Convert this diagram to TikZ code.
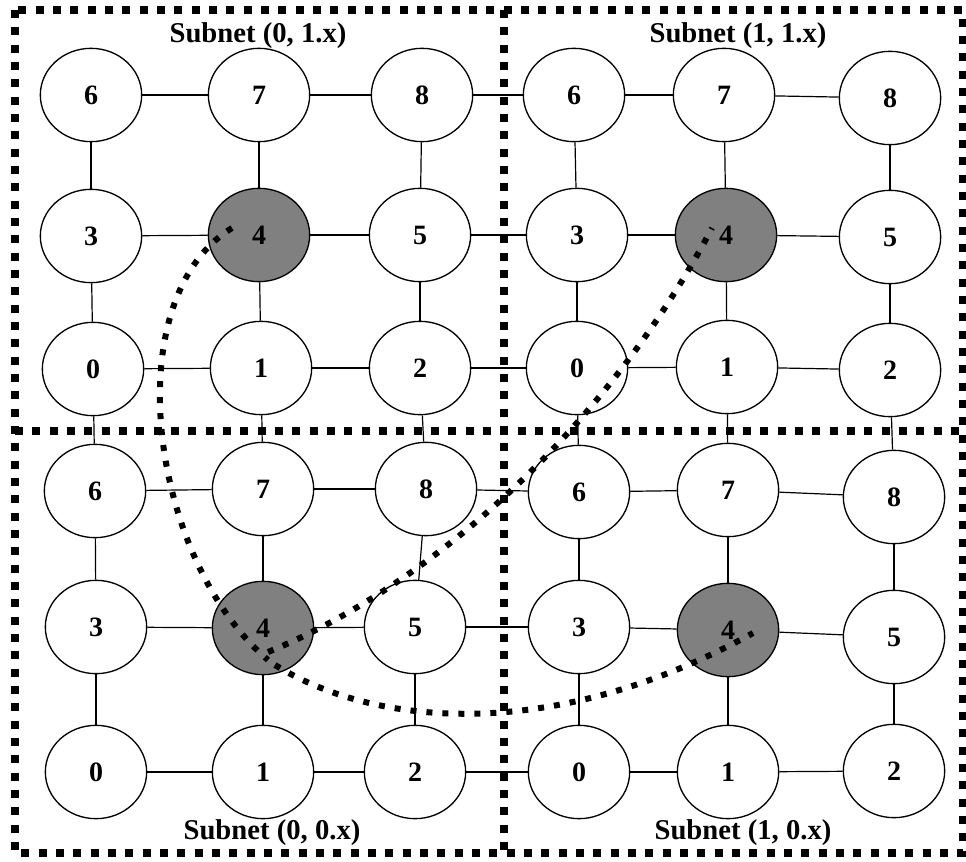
\documentclass[tikz,border=0pt]{standalone}
\usepackage{fontspec}
\setmainfont{Liberation Serif}
\usetikzlibrary{shapes.geometric}

\begin{document}
\begin{tikzpicture}
[x=0.75pt,y=-0.75pt,
cell/.style={ellipse,draw,line width=1pt,fill=white,minimum width=76pt,minimum height=70pt,inner sep=0pt,font=\fontsize{21}{24}\selectfont\bfseries},
hub/.style={cell,fill=gray},
link/.style={line width=0.9pt},
zone/.style={line width=5.6pt,dash pattern=on 6pt off 7pt},
route/.style={line width=4.5pt,dash pattern=on 4.5pt off 7.5pt},
title/.style={font=\fontsize{21.5}{24}\selectfont\bfseries}]
\useasboundingbox (0,0) rectangle (966,862);

% subnet borders
\draw[zone] (15,10) rectangle (963,853);
\draw[zone] (504,10) -- (504,853);
\draw[zone] (15,431) -- (963,431);

% subnet (0,1.x)
\foreach \n/\x/\y in {6/91/95,7/259/95,8/422/95,3/91/236,5/420/235,0/93/369,1/261/368,2/420/368}
\node[cell] (a\n) at (\x,\y) {\n};
\node[hub] (a4) at (259,235) {4};
% subnet (1,1.x)
\foreach \n/\x/\y in {6/574/95,7/724/95,8/890/98,3/577/235,5/890/237,0/577/368,1/727/367,2/890/370}
\node[cell] (b\n) at (\x,\y) {\n};
\node[hub] (b4) at (726,235) {4};
% subnet (0,0.x)
\foreach \n/\x/\y in {6/95/491,7/263/489,8/426/489,3/96/627,5/415/627,0/96/772,1/263/772,2/415/772}
\node[cell] (c\n) at (\x,\y) {\n};
\node[hub] (c4) at (263,628) {4};
% subnet (1,0.x)
\foreach \n/\x/\y in {6/579/492,7/728/490,8/894/497,3/579/627,5/894/637,0/579/772,1/728/772,2/894/771}
\node[cell] (d\n) at (\x,\y) {\n};
\node[hub] (d4) at (728,630) {4};

% mesh links
\foreach \s in {a,b,c,d}
\foreach \from/\to in {6/7,7/8,3/4,4/5,0/1,1/2,6/3,3/0,7/4,4/1,8/5,5/2}
\draw[link] (\s\from) -- (\s\to);
\foreach \from/\to in {a8/b6,a5/b3,a2/b0,c8/d6,c5/d3,c2/d0,a0/c6,a1/c7,a2/c8,b0/d6,b1/d7,b2/d8}
\draw[link] (\from) -- (\to);

% routes between the 4s
\draw[route] ([shift={(-27,-7)}]a4.center) .. controls (115,300) and (150,560) .. ([shift={(5,32)}]c4.center);
\draw[route] ([shift={(5,24)}]c4.center) .. controls (420,590) and (600,440) .. ([shift={(-14,-7)}]b4.center);
\draw[route] ([shift={(12,37)}]c4.center) .. controls (380,730) and (560,740) .. ([shift={(25,3)}]d4.center);

\node[title] (ta) at (258,36) {Subnet (0, 1.x)};
\node[title] (tb) at (738,36) {Subnet (1, 1.x)};
\node[title] (tc) at (272,833) {Subnet (0, 0.x)};
\node[title] (td) at (743,833) {Subnet (1, 0.x)};
\end{tikzpicture}
\end{document}
